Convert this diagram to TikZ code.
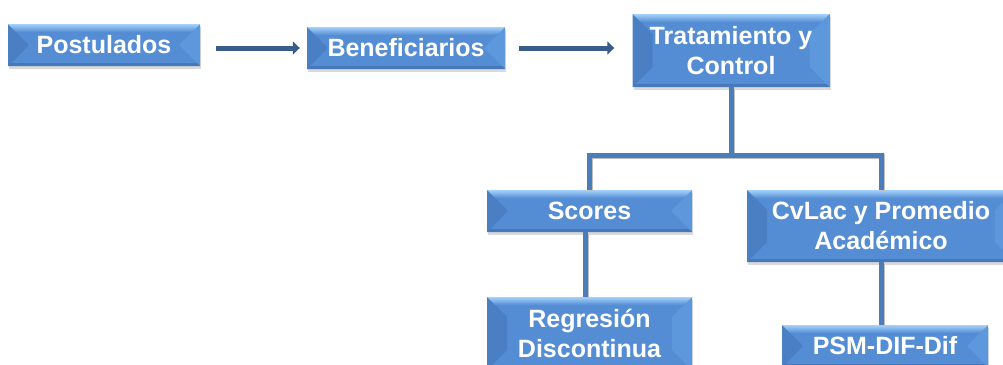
\documentclass[tikz,border=0pt]{standalone}
\usepackage{fontspec}
\setmainfont{Liberation Sans}
\usetikzlibrary{arrows.meta,shadows,calc}
\definecolor{boxblue}{RGB}{84,141,212}
\definecolor{bevleft}{RGB}{74,127,195}
\definecolor{bevright}{RGB}{94,152,220}
\definecolor{bevtop}{RGB}{165,210,250}
\definecolor{bevbot}{RGB}{70,120,186}
\definecolor{arrowblue}{RGB}{56,93,138}
\definecolor{treeblue}{RGB}{74,126,187}
\tikzset{
  bevelbox/.style={rectangle, inner sep=0pt, align=center, text=white,
    font=\bfseries\fontsize{25}{30}\selectfont,
    fill=boxblue,
    drop shadow={shadow xshift=1pt, shadow yshift=-3pt, opacity=0.25, fill=black!60},
    path picture={
      \fill[bevleft] (path picture bounding box.north west) -- ++(20pt,-20pt)
        -- ([shift={(20pt,20pt)}]path picture bounding box.south west)
        -- (path picture bounding box.south west) -- cycle;
      \fill[bevright] (path picture bounding box.north east) -- ++(-20pt,-20pt)
        -- ([shift={(-20pt,20pt)}]path picture bounding box.south east)
        -- (path picture bounding box.south east) -- cycle;
      \shade[top color=bevtop, bottom color=boxblue]
        (path picture bounding box.north west) -- (path picture bounding box.north east)
        -- ++(-8pt,-8pt) -- ([shift={(8pt,-8pt)}]path picture bounding box.north west) -- cycle;
      \fill[bevbot] (path picture bounding box.south west) -- (path picture bounding box.south east)
        -- ++(-3pt,3pt) -- ([shift={(3pt,3pt)}]path picture bounding box.south west) -- cycle;
    }},
  flowarrow/.style={draw=arrowblue, line width=5pt, -{Triangle[length=7pt,width=13pt]}},
  treeline/.style={draw=treeblue, line width=5pt,
    preaction={draw=black!25, line width=5pt, transform canvas={xshift=1pt,yshift=-1.5pt}}},
}
\begin{document}
\begin{tikzpicture}[x=1pt,y=1pt]
\useasboundingbox (0,0) rectangle (1003,-364);
\node[bevelbox, minimum width=192pt, minimum height=42pt] (P) at (104,-45) {Postulados};
\node[bevelbox, minimum width=198pt, minimum height=42pt] (B) at (406,-48) {Beneficiarios};
\node[bevelbox, minimum width=197pt, minimum height=73pt] (T) at (731,-50.5) {Tratamiento y\\Control};
\node[bevelbox, minimum width=205pt, minimum height=42pt] (S) at (589.5,-211) {Scores};
\node[bevelbox, minimum width=268pt, minimum height=72pt] (C) at (881,-226) {CvLac y Promedio\\Académico};
\node[bevelbox, minimum width=205pt, minimum height=73pt] (R) at (589.5,-333.5) {Regresión\\Discontinua};
\node[bevelbox, minimum width=206pt, minimum height=42pt] (M) at (885,-346) {PSM-DIF-Dif};

\draw[flowarrow, shorten <=16pt, shorten >=7pt] (P.east |- B.west) -- (B.west);
\draw[flowarrow, shorten <=14pt, shorten >=18pt] (B.east) -- (T.west |- B.east);

\draw[treeline] (T.south) -- ++(0,-68) -| (S.north);
\draw[treeline] (T.south) -- ++(0,-68) -| (C.north);
\draw[treeline] ([xshift=-4pt]S.south) -- ([xshift=-4pt]R.north);
\draw[treeline] (C.south) -- (C.south |- M.north);
\end{tikzpicture}
\end{document}
